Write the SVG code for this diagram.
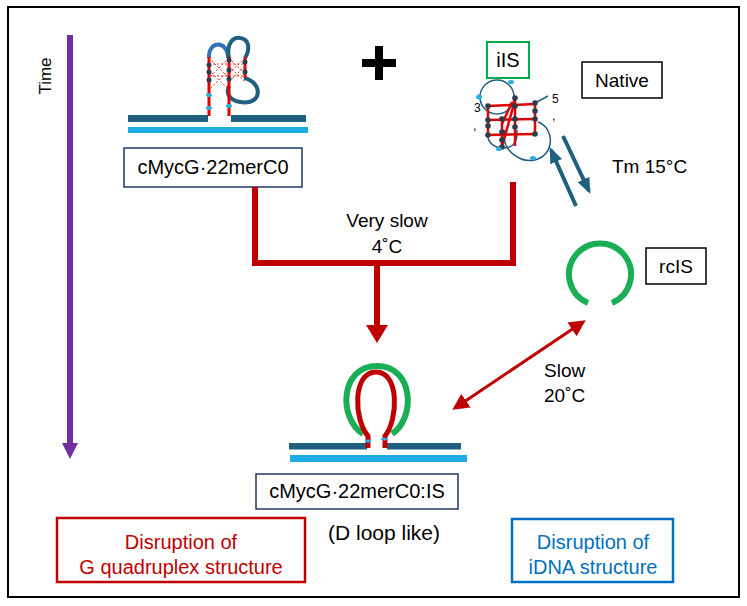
<svg xmlns="http://www.w3.org/2000/svg" width="747" height="606" viewBox="0 0 747 606">
<defs>
<style>
text{font-family:"Liberation Sans",Arial,sans-serif;fill:#000}
.lbl{font-size:19px}
.red{fill:#C00000}
.blu{fill:#0070C0}
.conn{stroke:#C00000;stroke-width:6;fill:none}
.teal{stroke:#1F5F7F;fill:none}
.g4{stroke:#E00000;stroke-width:3;fill:none}
.hb{stroke:#E83030;stroke-width:1;stroke-dasharray:2 2;fill:none}
.dot{fill:#2F3B4A}
.ldot{fill:#2AB0E0}
.dark{fill:#1F5F7F}
.light{fill:#1CADE4}
</style>
<marker id="tealHead" viewBox="0 0 10 10" refX="8" refY="5" markerWidth="4" markerHeight="4.5" orient="auto">
<path d="M0,1 L10,5 L0,9 Z" fill="#1F5F7F"/>
</marker>
<marker id="redHead" viewBox="0 0 10 10" refX="8" refY="5" markerWidth="5.5" markerHeight="5.5" orient="auto-start-reverse">
<path d="M0,0 L10,5 L0,10 Z" fill="#C00000"/>
</marker>
</defs>
<rect x="8" y="7" width="731" height="590" fill="#fff" stroke="#000" stroke-width="2"/>

<g id="time">
<line x1="70" y1="35" x2="70" y2="444" stroke="#7030A0" stroke-width="6"/>
<polygon points="62,443 78,443 70,459" fill="#7030A0"/>
<text transform="translate(51,76) rotate(-90)" text-anchor="middle" style="font-size:17px">Time</text>
</g>

<g id="cmyc">
<rect class="dark" x="128" y="115" width="80" height="7"/>
<rect class="dark" x="231" y="115" width="75" height="7"/>
<rect class="light" x="128" y="127" width="180" height="6"/>
<path d="M209,58 C208,40 228,40 228,58" stroke="#2E75B6" stroke-width="4" fill="none"/>
<path class="teal" stroke-width="4" d="M229,58 C226,42 234,37 240,38 C250,39 250,50 245,58"/>
<path class="teal" stroke-width="4" d="M244,78 C263,82 263,106 240,102 C228,100 226,92 229,86"/>
<line class="g4" x1="209" y1="57" x2="209" y2="116"/>
<line class="g4" x1="229" y1="57" x2="229" y2="116"/>
<line class="g4" x1="245" y1="57" x2="245" y2="78"/>
<path class="hb" d="M209,58 L229,78 M229,58 L209,78 M209,70 L229,90 M229,70 L209,90 M229,58 L245,74 M245,58 L229,74 M229,66 L245,82 M245,66 L229,82 M209,64 L245,64 M209,76 L245,76"/>
<g class="dot">
<circle cx="209" cy="65" r="2.5"/><circle cx="209" cy="72" r="2.5"/><circle cx="209" cy="80" r="2.5"/>
<circle cx="229" cy="60" r="2.5"/><circle cx="229" cy="70" r="2.5"/><circle cx="229" cy="79" r="2.5"/>
<circle cx="245" cy="62" r="2.5"/><circle cx="245" cy="72" r="2.5"/>
</g>
<g class="ldot">
<ellipse cx="209" cy="95" rx="3" ry="2"/><ellipse cx="209" cy="108" rx="3" ry="2"/><ellipse cx="229" cy="106" rx="3" ry="2"/>
</g>
<rect x="124" y="148" width="178" height="39" fill="#fff" stroke="#1F3864" stroke-width="1.5"/>
<text x="213" y="174" text-anchor="middle" style="font-size:20px">cMycG·22merC0</text>
</g>

<g id="plus">
<rect x="375" y="46" width="8" height="34" fill="#000"/>
<rect x="362" y="59" width="34" height="8" fill="#000"/>
</g>

<g id="iis">
<rect x="487" y="42" width="42" height="36" fill="#fff" stroke="#00B050" stroke-width="2"/>
<text x="508" y="67" text-anchor="middle" style="font-size:20px">iIS</text>
<circle class="teal" stroke-width="1.5" cx="497" cy="97" r="17"/>
<path class="teal" stroke-width="1.5" d="M505,130 C500,150 520,163 535,160 C555,155 555,128 538,122"/>
<path class="teal" stroke-width="1.5" d="M488,132 C486,145 498,148 502,148 C510,148 518,146 517,130"/>
<line class="teal" stroke-width="1.5" x1="535" y1="103" x2="548" y2="96"/>
<g stroke="#E00000" stroke-width="2.5" fill="none">
<line x1="488" y1="106" x2="488" y2="137"/>
<line x1="502" y1="117" x2="502" y2="147"/>
<line x1="515" y1="98" x2="515" y2="146"/>
<line x1="535" y1="103" x2="535" y2="134"/>
<line x1="488" y1="106" x2="535" y2="104"/>
<line x1="488" y1="120" x2="535" y2="119"/>
<line x1="488" y1="135" x2="535" y2="134"/>
<line x1="502" y1="147" x2="515" y2="100"/>
<line x1="502" y1="124" x2="512" y2="102"/>
</g>
<g class="dot">
<circle cx="488" cy="106" r="2.8"/><circle cx="488" cy="120" r="2.8"/><circle cx="488" cy="126" r="2.8"/><circle cx="488" cy="135" r="2.8"/>
<circle cx="502" cy="119" r="2.8"/><circle cx="502" cy="132" r="2.8"/><circle cx="502" cy="140" r="2.8"/><circle cx="502" cy="147" r="2.8"/>
<circle cx="515" cy="98" r="2.8"/><circle cx="515" cy="106" r="2.8"/><circle cx="515" cy="119" r="2.8"/><circle cx="515" cy="127" r="2.8"/>
<circle cx="535" cy="103" r="2.8"/><circle cx="535" cy="111" r="2.8"/><circle cx="535" cy="119" r="2.8"/><circle cx="535" cy="134" r="2.8"/>
</g>
<g class="ldot">
<ellipse cx="479" cy="97" rx="3" ry="2.5"/><ellipse cx="511" cy="82" rx="3" ry="2"/><ellipse cx="533" cy="158" rx="3" ry="2"/><ellipse cx="499" cy="149" rx="3" ry="2"/>
</g>
<text x="474" y="112" style="font-size:12px">3</text>
<text x="473" y="130" style="font-size:12px">,</text>
<text x="552" y="103" style="font-size:12px">5</text>
<text x="552" y="120" style="font-size:12px">,</text>
</g>

<g id="native">
<rect x="582" y="62" width="80" height="36" fill="#fff" stroke="#000" stroke-width="1.5"/>
<text x="622" y="87" text-anchor="middle" class="lbl">Native</text>
</g>

<g id="rcis">
<path d="M588,303 A31,31 0 1 1 612,303" stroke="#1AAF54" stroke-width="6" fill="none"/>
<rect x="646" y="248" width="60" height="36" fill="#fff" stroke="#000" stroke-width="1.5"/>
<text x="676" y="273" text-anchor="middle" class="lbl">rcIS</text>
</g>

<g id="complex">
<rect class="dark" x="289" y="443" width="78" height="6.5"/>
<rect class="dark" x="387" y="443" width="74" height="6.5"/>
<rect class="light" x="290" y="455" width="177" height="7"/>
<path d="M363,434 C338,418 340,366 377,366 C414,366 416,418 392,434" stroke="#1AAF54" stroke-width="6" fill="none"/>
<path d="M368,448 L368,436 C354,420 352,372 376,372 C400,372 398,420 385,436 L385,448" stroke="#C00000" stroke-width="5" fill="none"/>
<ellipse class="ldot" cx="368" cy="441" rx="3" ry="1.5"/>
<ellipse class="ldot" cx="384" cy="439" rx="3" ry="1.5"/>
<rect x="256" y="474" width="202" height="35" fill="#fff" stroke="#1F3864" stroke-width="1.5"/>
<text x="357" y="498" text-anchor="middle" style="font-size:20px">cMycG·22merC0:IS</text>
<text x="384" y="540" text-anchor="middle" style="font-size:21px">(D loop like)</text>
</g>

<g id="gq">
<rect x="57" y="518" width="248" height="64" fill="#fff" stroke="#C00000" stroke-width="2.5"/>
<text x="181" y="549" text-anchor="middle" class="red" style="font-size:20px">Disruption of</text>
<text x="181" y="574" text-anchor="middle" class="red" style="font-size:20px">G quadruplex structure</text>
</g>

<g id="idna">
<rect x="512" y="519" width="161" height="63" fill="#fff" stroke="#0070C0" stroke-width="2.5"/>
<text x="593" y="549" text-anchor="middle" class="blu" style="font-size:20px">Disruption of</text>
<text x="593" y="574" text-anchor="middle" class="blu" style="font-size:20px">iDNA structure</text>
</g>

<g id="connectors">
<path class="conn" d="M255,187 L255,263 L513,263 L513,182"/>
<line class="conn" x1="377" y1="263" x2="377" y2="326"/>
<polygon points="366,325 388,325 377,343" fill="#C00000"/>
<line stroke="#1F5F7F" stroke-width="4" x1="576" y1="206" x2="551" y2="150" marker-end="url(#tealHead)"/>
<line stroke="#1F5F7F" stroke-width="4" x1="563" y1="136" x2="589" y2="191" marker-end="url(#tealHead)"/>
<line stroke="#C00000" stroke-width="3" x1="455" y1="408" x2="583" y2="322" marker-start="url(#redHead)" marker-end="url(#redHead)"/>
<text x="387" y="227" text-anchor="middle" class="lbl">Very  slow</text>
<text x="387" y="253" text-anchor="middle" class="lbl">4˚C</text>
<text x="612" y="173" class="lbl">Tm 15°C</text>
<text x="544" y="377" class="lbl">Slow</text>
<text x="544" y="402" class="lbl">20˚C</text>
</g>
</svg>
